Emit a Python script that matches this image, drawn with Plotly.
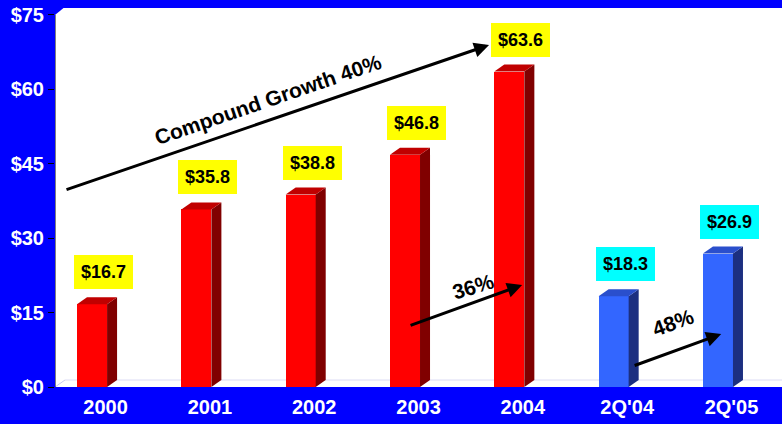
import plotly.graph_objects as go

# Revenue by period ($ millions)
categories = ["2000", "2001", "2002", "2003", "2004", "2Q'04", "2Q'05"]
revenue = [16.7, 35.8, 38.8, 46.8, 63.6, 18.3, 26.9]
is_quarter = [False, False, False, False, False, True, True]
y_ticks = [0, 15, 30, 45, 60, 75]

# Growth callouts: text, text position, arrow start, arrow end (data coords), text angle
callouts = [
    ("Compound Growth 40%", (1.687, 57.9), (-0.259, 39.7), (3.806, 68.95), -19),
    ("36%", (3.653, 20.3), (3.039, 12.3), (4.123, 20.56), -17),
    ("48%", (5.570, 13.0), (5.187, 4.23), (6.031, 10.69), -20),
]

# 3D bar geometry (in axis units)
BAR_W = 0.288
DX = 0.096
DY = 1.41
X_MIN, X_MAX = -0.355, 6.614
Y_TOP = max(y_ticks) + DY

FONT = "Arial, Liberation Sans, sans-serif"
RED = dict(front="#FF0000", top="#C00000", side="#800000", label="#FFFF00")
BLUE = dict(front="#3366FF", top="#2A4FCC", side="#1C2F80", label="#00FFFF")

fig = go.Figure()

# Front faces
xs = list(range(len(categories)))
fig.add_trace(go.Bar(
    x=xs, y=revenue, width=BAR_W,
    marker=dict(color=[(BLUE if q else RED)["front"] for q in is_quarter], line=dict(width=0)),
    hoverinfo="skip", showlegend=False,
))

# Side and top faces
for i, (v, q) in enumerate(zip(revenue, is_quarter)):
    pal = BLUE if q else RED
    x0, x1 = i - BAR_W / 2, i + BAR_W / 2
    fig.add_trace(go.Scatter(
        x=[x1, x1 + DX, x1 + DX, x1, x1], y=[0, DY, v + DY, v, 0],
        fill="toself", fillcolor=pal["side"], mode="lines", line=dict(width=0),
        hoverinfo="skip", showlegend=False,
    ))
    fig.add_trace(go.Scatter(
        x=[x0, x0 + DX, x1 + DX, x1, x0], y=[v, v + DY, v + DY, v, v],
        fill="toself", fillcolor=pal["top"], mode="lines", line=dict(width=0),
        hoverinfo="skip", showlegend=False,
    ))

annotations = []
# Value labels
for i, (v, q) in enumerate(zip(revenue, is_quarter)):
    pal = BLUE if q else RED
    annotations.append(dict(
        x=i - BAR_W / 2, y=v + DY, xref="x", yref="y",
        xanchor="left", yanchor="bottom", xshift=-3, yshift=8,
        text=f"<b>${v:.1f}</b>", showarrow=False,
        bgcolor=pal["label"], borderpad=7, borderwidth=0,
        font=dict(family=FONT, size=18, color="black"),
    ))

# Growth arrows and text
for text, (tx, ty), (sx, sy), (ex, ey), ang in callouts:
    annotations.append(dict(
        x=ex, y=ey, ax=sx, ay=sy, xref="x", yref="y", axref="x", ayref="y",
        text="", showarrow=True, arrowhead=2, arrowsize=1, arrowwidth=3,
        arrowcolor="black", standoff=0, startstandoff=0,
    ))
    annotations.append(dict(
        x=tx, y=ty, xref="x", yref="y", text=f"<b>{text}</b>", showarrow=False,
        textangle=ang, font=dict(family=FONT, size=21, color="black"),
    ))

shapes = [
    # floor back edge
    dict(type="line", xref="x", yref="y", x0=X_MIN + DX, y0=DY, x1=X_MAX, y1=DY,
         line=dict(color="#DCDCF4", width=1), layer="below"),
    dict(type="line", xref="x", yref="y", x0=X_MIN, y0=0, x1=X_MIN + DX, y1=DY,
         line=dict(color="#C8C8F0", width=1), layer="below"),
    # value axis line
    dict(type="line", xref="x", yref="y", x0=X_MIN, y0=0, x1=X_MIN, y1=max(y_ticks),
         line=dict(color="black", width=1)),
    # wall corner
    dict(type="path", xref="x", yref="y",
         path=f"M {X_MIN},{max(y_ticks)} L {X_MIN},{Y_TOP} L {X_MIN + DX * 0.85},{Y_TOP} Z",
         fillcolor="#0000FF", line=dict(width=0)),
]

fig.update_layout(
    width=782, height=424,
    margin=dict(l=55, r=0, t=8, b=37),
    paper_bgcolor="#0000FF", plot_bgcolor="white",
    bargap=0, showlegend=False,
    annotations=annotations, shapes=shapes,
    xaxis=dict(
        range=[X_MIN, X_MAX], tickmode="array",
        tickvals=[i + 0.13 for i in xs], ticktext=categories,
        tickfont=dict(family=FONT, size=20, color="white", weight="bold"),
        showgrid=False, zeroline=False, showline=False, ticks="",
        ticklabelstandoff=6, fixedrange=True,
    ),
    yaxis=dict(
        range=[0, Y_TOP], tickmode="array", tickvals=y_ticks,
        ticktext=[f"${t}" for t in y_ticks],
        tickfont=dict(family=FONT, size=20, color="white", weight="bold"),
        showgrid=False, zeroline=False, showline=False,
        ticks="outside", ticklen=6, tickcolor="black", tickwidth=1,
        fixedrange=True,
    ),
)

fig.write_html("out.html")
